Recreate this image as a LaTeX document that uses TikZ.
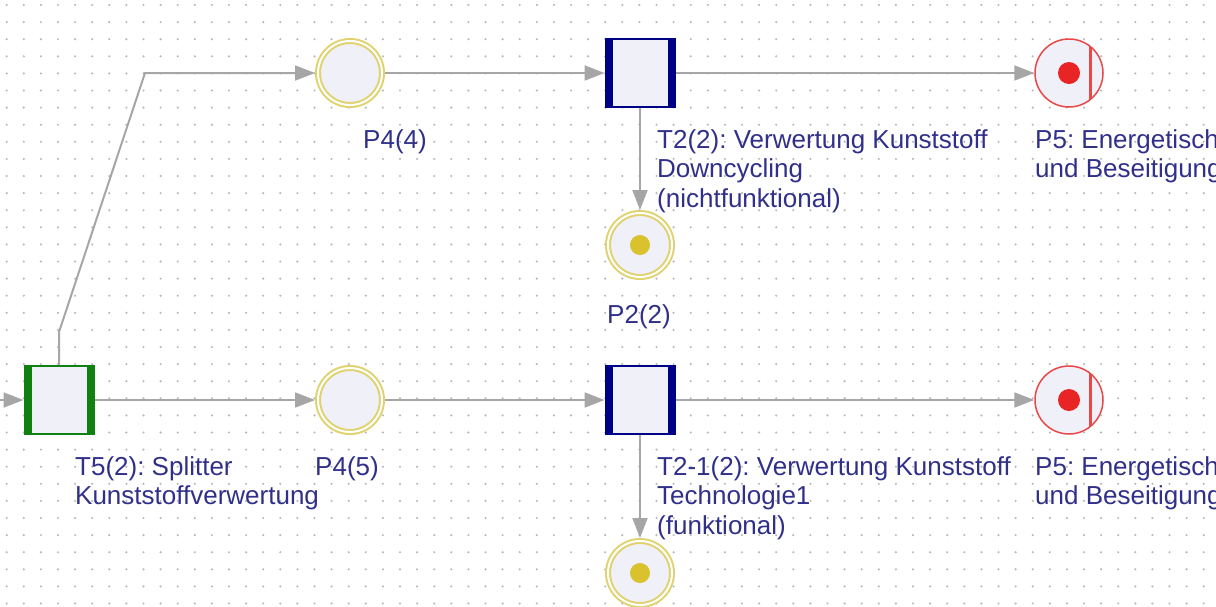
\documentclass[tikz,border=0pt]{standalone}
\usepackage{fontspec}
\setmainfont{Liberation Sans}
\usetikzlibrary{arrows.meta}
\frenchspacing

\definecolor{gridgray}{RGB}{185,185,185}
\definecolor{arcgray}{RGB}{166,166,166}
\definecolor{nodefill}{RGB}{240,240,248}
\definecolor{placeyellow}{RGB}{224,210,110}
\definecolor{tokenyellow}{RGB}{217,194,46}
\definecolor{splitgreen}{RGB}{16,128,16}
\definecolor{transblue}{RGB}{0,0,135}
\definecolor{sinkred}{RGB}{232,72,72}
\definecolor{tokenred}{RGB}{232,36,36}
\definecolor{labelblue}{RGB}{48,48,138}

\begin{document}
\begin{tikzpicture}[x=1pt, y=-1pt,
  place/.style={circle, draw=placeyellow, line width=2pt, double=white,
    double distance=2pt, fill=nodefill, minimum size=64pt, inner sep=0pt,
    outer sep=3pt},
  sink/.style={circle, draw=sinkred, line width=1.5pt, fill=nodefill,
    minimum size=68pt, inner sep=0pt,
    path picture={\draw[sinkred, line width=3pt]
      ([xshift=21pt]path picture bounding box.north) --
      ([xshift=21pt]path picture bounding box.south);}},
  trans/.style={rectangle, draw=#1, line width=2pt, fill=nodefill,
    minimum width=69pt, minimum height=68pt, inner sep=0pt,
    path picture={
      \fill[#1] (path picture bounding box.south west) rectangle
        ([xshift=7pt]path picture bounding box.north west);
      \fill[#1] (path picture bounding box.south east) rectangle
        ([xshift=-7pt]path picture bounding box.north east);}},
  arc/.style={draw=arcgray, line width=2pt, -{Triangle[length=20pt, width=15pt]}},
  lbl/.style={anchor=north west, align=left, text=labelblue, inner sep=0pt,
    font=\fontsize{26}{29.5}\selectfont}]

  \useasboundingbox (0,0) rectangle (1216,606);

  % Dot grid
  \foreach \i in {0,...,70}
    \foreach \j in {0,...,35}
      \fill[gridgray] (6.7+17.1*\i, 5+17.1*\j) circle (1.2pt);

  % Transitions
  \node[trans=splitgreen] (t5)  at (59,400) {};
  \node[trans=transblue]  (t2)  at (640,73) {};
  \node[trans=transblue]  (t21) at (640,400) {};

  % Places
  \node[place] (p44) at (350,73) {};
  \node[place] (p45) at (350,400) {};
  \node[place] (p22) at (640,245) {};
  \node[place] (p2b) at (640,573) {};
  \node[sink]  (p5a) at (1069,73) {};
  \node[sink]  (p5b) at (1069,400) {};

  % Tokens
  \fill[tokenyellow] (p22) circle (10pt);
  \fill[tokenyellow] (p2b) circle (10pt);
  \fill[tokenred] (p5a) circle (11pt);
  \fill[tokenred] (p5b) circle (11pt);

  % Arcs
  \coordinate (in5) at (0,400);   % incoming from the left
  \coordinate (k1) at (59,332);   % bend above T5
  \coordinate (k2) at (145,73);   % bend left of P4(4)
  \draw[arc] (in5) -- (t5);
  \draw[arc] (t5) -- (k1) -- (k2) -- (p44);
  \draw[arc] (t5) -- (p45);
  \draw[arc] (p44) -- (t2);
  \draw[arc] (p45) -- (t21);
  \draw[arc] (t2) -- (p5a);
  \draw[arc] (t2) -- (p22);
  \draw[arc] (t21) -- (p5b);
  \draw[arc] (t21) -- (p2b);

  % Labels
  \node[lbl] (l44) at (363,129) {P4(4)};
  \node[lbl] (lt2) at (657,129) {T2(2): Verwertung Kunststoff\\Downcycling\\(nichtfunktional)};
  \node[lbl] (l5a) at (1035,129) {P5: Energetische\\und Beseitigung};
  \node[lbl] (l22) at (607,304) {P2(2)};
  \node[lbl] (lt5) at (75,456) {T5(2): Splitter\\Kunststoffverwertung};
  \node[lbl] (l45) at (315,456) {P4(5)};
  \node[lbl] (lt21) at (657,456) {T2-1(2): Verwertung Kunststoff\\Technologie1\\(funktional)};
  \node[lbl] (l5b) at (1035,456) {P5: Energetische\\und Beseitigung};
\end{tikzpicture}
\end{document}
